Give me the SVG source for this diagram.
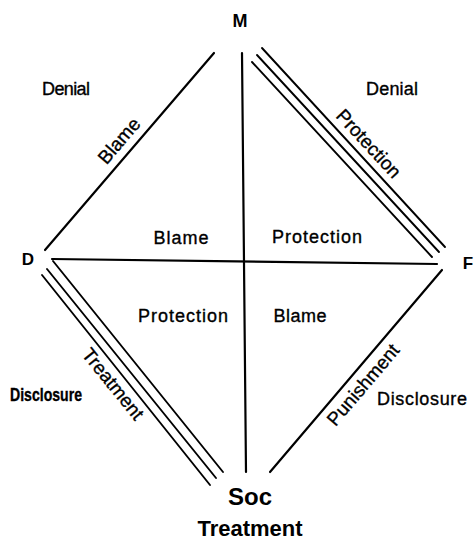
<svg xmlns="http://www.w3.org/2000/svg" width="474" height="547" viewBox="0 0 474 547">
<style>
.ln{stroke:#000;stroke-width:2.2;fill:none;stroke-linecap:round}
.tl{stroke:#000;stroke-width:1.9;fill:none;stroke-linecap:round}
.t{font-family:"Liberation Sans",Arial,sans-serif;font-size:18px;fill:#000;stroke:#000;stroke-width:0.35}
.r{font-size:19px}
.nd{font-family:"Liberation Sans",Arial,sans-serif;font-weight:bold;fill:#000}
</style>
<rect width="474" height="547" fill="#fff"/>
<g id="connectors">
<line class="ln" x1="45" y1="250" x2="214" y2="53"/>
<line class="ln" x1="242" y1="53" x2="246" y2="472"/>
<line class="ln" x1="52" y1="259" x2="437" y2="264"/>
<line class="ln" x1="442" y1="270" x2="270" y2="472"/>
<line class="tl" x1="252" y1="62" x2="432" y2="257"/>
<line class="tl" x1="257" y1="55" x2="439" y2="252"/>
<line class="tl" x1="262" y1="48" x2="445" y2="247"/>
<line class="tl" x1="42" y1="275" x2="210" y2="485"/>
<line class="tl" x1="47" y1="269" x2="216" y2="478"/>
<line class="tl" x1="53" y1="261" x2="223" y2="472"/>
</g>
<g id="node-M"><text class="nd" x="240" y="27" font-size="18" text-anchor="middle">M</text></g>
<g id="node-D"><text class="nd" x="28" y="265" font-size="17" text-anchor="middle">D</text></g>
<g id="node-F"><text class="nd" x="468" y="269" font-size="17" text-anchor="middle">F</text></g>
<g id="node-Soc"><text class="nd" x="250" y="505" font-size="24" text-anchor="middle">Soc</text>
<text class="nd" x="250" y="536" font-size="22" text-anchor="middle">Treatment</text></g>
<g id="labels">
<text class="t" x="66" y="95" text-anchor="middle" textLength="48">Denial</text>
<text class="t" x="392" y="95" text-anchor="middle" textLength="52">Denial</text>
<text class="t" x="181" y="244" text-anchor="middle" textLength="55">Blame</text>
<text class="t" x="317" y="243" text-anchor="middle" textLength="90">Protection</text>
<text class="t" x="183" y="322" text-anchor="middle" textLength="90">Protection</text>
<text class="t" x="300" y="322" text-anchor="middle" textLength="53">Blame</text>
<text class="t" x="422" y="405" text-anchor="middle" textLength="90">Disclosure</text>
<text class="t" x="46" y="401" text-anchor="middle" font-weight="bold" textLength="72" lengthAdjust="spacingAndGlyphs">Disclosure</text>
<text class="t r" text-anchor="middle" transform="translate(124,145) rotate(-49.4)">Blame</text>
<text class="t r" text-anchor="middle" transform="translate(364,148) rotate(47.3)">Protection</text>
<text class="t r" text-anchor="middle" transform="translate(108,388) rotate(51)">Treatment</text>
<text class="t r" text-anchor="middle" transform="translate(368,389) rotate(-49.6)">Punishment</text>
</g>
</svg>
